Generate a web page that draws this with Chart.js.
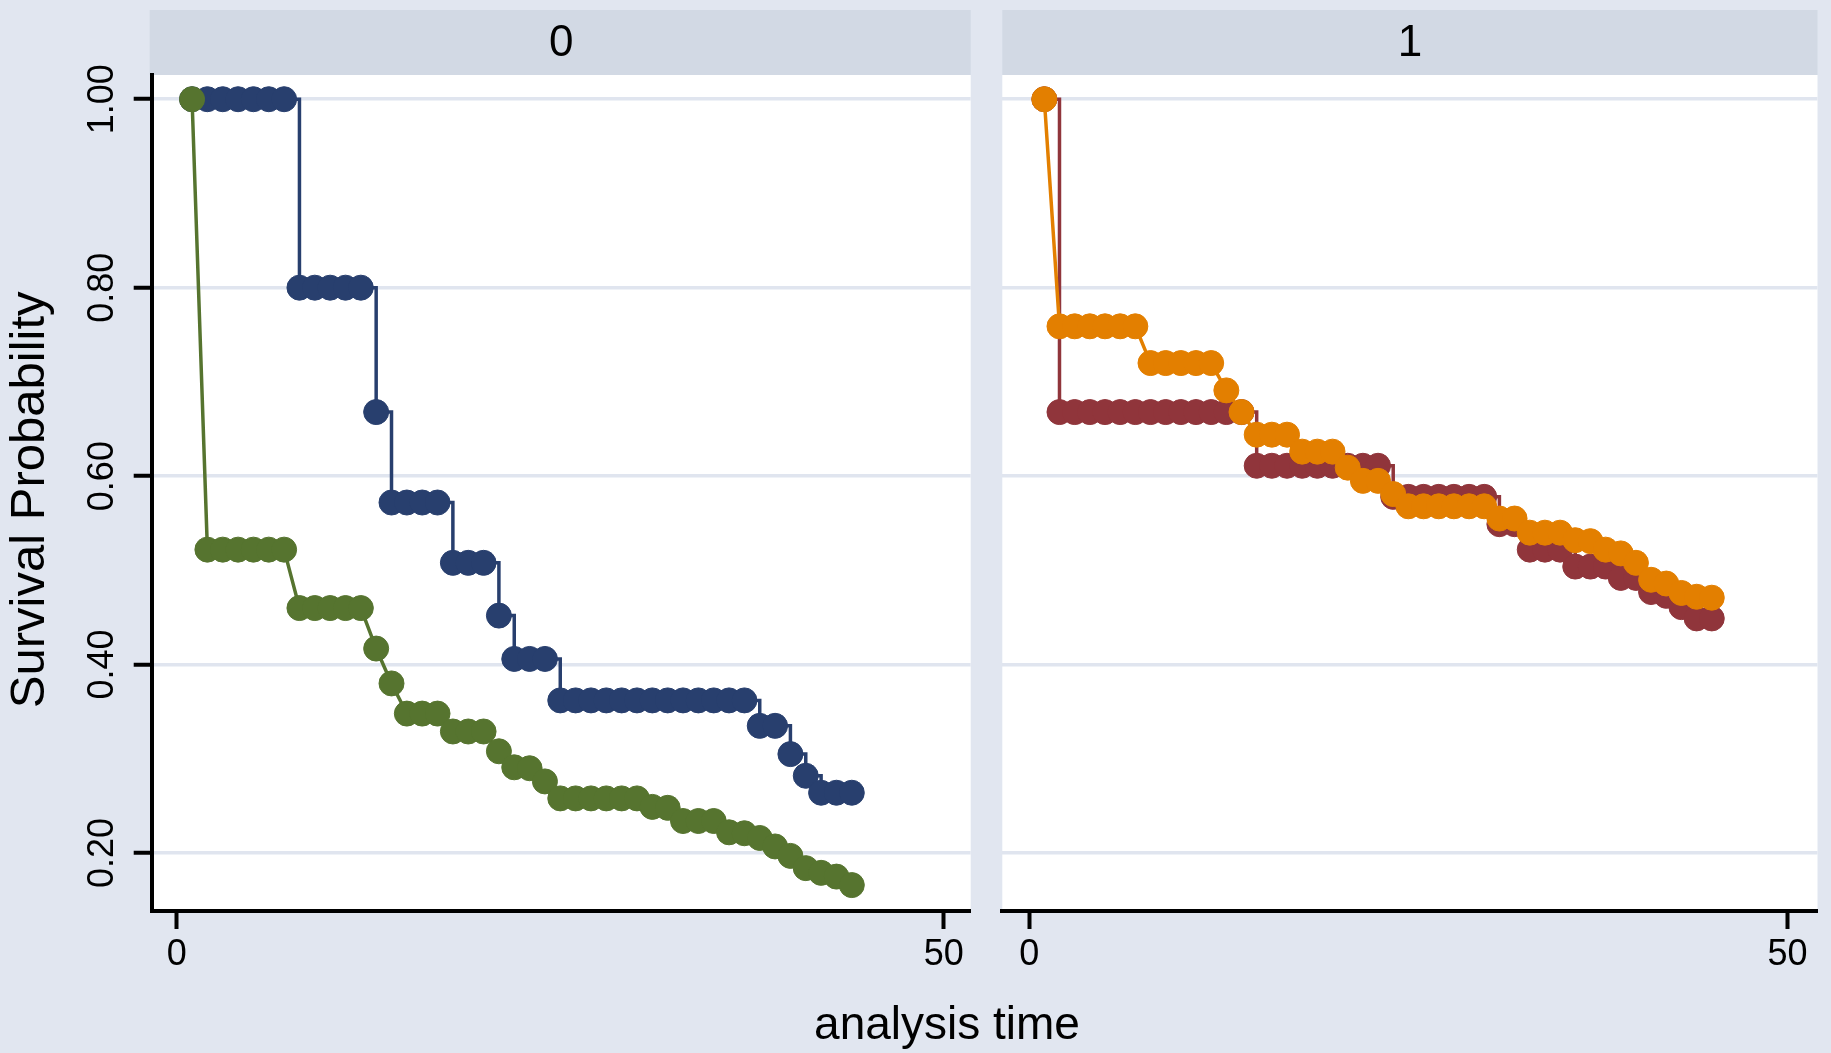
<!DOCTYPE html>
<html>
<head>
<meta charset="utf-8">
<title>Survival Probability</title>
<script src="https://cdn.jsdelivr.net/npm/chart.js@4.4.1/dist/chart.umd.min.js"></script>
<style>
    html, body { margin: 0; padding: 0; background: #e1e6f0; }
    #wrap { position: relative; width: 1831px; height: 1053px; overflow: hidden; }
    #panel0 { position: absolute; left: 0; top: 0; }
    #panel1 { position: absolute; left: 985px; top: 0; }
    #xtitle {
        position: absolute; left: 647px; top: 1000px; width: 600px;
        text-align: center; font: 46px/46px "Liberation Sans", Arial, sans-serif; color: #000;
    }
</style>
</head>
<body>
<div id="wrap">
    <canvas id="panel0" width="985" height="1053"></canvas>
    <canvas id="panel1" width="846" height="1053"></canvas>
    <div id="xtitle">analysis time</div>
</div>
<script>
// =========================
// DATOS
// =========================
const panelLabels = ["0", "1"]
const xTicks = [0, 50]
const yTicks = [0.2, 0.4, 0.6, 0.8, 1.0]

const times0 = [1, 2, 3, 4, 5, 6, 7, 8, 9, 10, 11, 12, 13, 14, 15, 16, 17, 18, 19, 20, 21, 22,
    23, 24, 25, 26, 27, 28, 29, 30, 31, 32, 33, 34, 35, 36, 37, 38, 39, 40, 41, 42, 43, 44]
const km0 = [1, 1, 1, 1, 1, 1, 1, 0.800, 0.800, 0.800, 0.800, 0.800, 0.668, 0.572, 0.572, 0.572,
    0.572, 0.508, 0.508, 0.508, 0.452, 0.406, 0.406, 0.406, 0.362, 0.362, 0.362, 0.362, 0.362,
    0.362, 0.362, 0.362, 0.362, 0.362, 0.362, 0.362, 0.362, 0.335, 0.335, 0.305, 0.282, 0.264,
    0.264, 0.264]
const model0 = [1, 0.522, 0.522, 0.522, 0.522, 0.522, 0.522, 0.460, 0.460, 0.460, 0.460, 0.460,
    0.417, 0.380, 0.348, 0.348, 0.348, 0.329, 0.329, 0.329, 0.308, 0.291, 0.290, 0.276, 0.258,
    0.258, 0.258, 0.258, 0.258, 0.258, 0.249, 0.248, 0.234, 0.234, 0.234, 0.222, 0.221, 0.216,
    0.207, 0.197, 0.184, 0.179, 0.175, 0.166]

const times1 = [1, 2, 3, 4, 5, 6, 7, 8, 9, 10, 11, 12, 13, 14, 15, 16, 17, 18, 19, 20, 21, 22,
    23, 24, 25, 26, 27, 28, 29, 30, 31, 32, 33, 34, 35, 36, 37, 38, 39, 40, 41, 42, 43, 44, 45]
const km1 = [1, 0.668, 0.668, 0.668, 0.668, 0.668, 0.668, 0.668, 0.668, 0.668, 0.668, 0.668,
    0.668, 0.668, 0.611, 0.611, 0.611, 0.611, 0.611, 0.611, 0.611, 0.611, 0.611, 0.578, 0.578,
    0.578, 0.578, 0.578, 0.578, 0.578, 0.549, 0.549, 0.522, 0.522, 0.522, 0.504, 0.504, 0.504,
    0.492, 0.492, 0.477, 0.473, 0.461, 0.449, 0.449]
const model1 = [1, 0.759, 0.759, 0.759, 0.759, 0.759, 0.759, 0.720, 0.720, 0.720, 0.720, 0.720,
    0.691, 0.668, 0.644, 0.644, 0.644, 0.626, 0.626, 0.626, 0.609, 0.595, 0.595, 0.581, 0.568,
    0.568, 0.568, 0.568, 0.568, 0.568, 0.555, 0.555, 0.540, 0.540, 0.540, 0.532, 0.531, 0.522,
    0.518, 0.508, 0.490, 0.486, 0.476, 0.472, 0.471]

const FONT = '"Liberation Sans", Arial, sans-serif'
Chart.defaults.font.family = FONT
Chart.defaults.color = "#000"

// fondo blanco del panel + franja gris con la etiqueta
const stripPlugin = {
    id: "strip",
    beforeDraw(chart, args, opts) {
        const { ctx, chartArea } = chart
        ctx.save()
        ctx.fillStyle = "#ffffff"
        ctx.fillRect(chartArea.left, chartArea.top, chartArea.right - chartArea.left, chartArea.bottom - chartArea.top)
        ctx.fillStyle = "#d2d9e4"
        ctx.fillRect(chartArea.left - opts.extendLeft, opts.top,
            chartArea.right - chartArea.left + opts.extendLeft, chartArea.top - opts.top)
        ctx.fillStyle = "#000"
        ctx.font = "44px " + FONT
        ctx.textAlign = "center"
        ctx.textBaseline = "middle"
        ctx.fillText(opts.label, (chartArea.left + chartArea.right) / 2, (opts.top + chartArea.top) / 2 + 1)
        ctx.restore()
    }
}

class SurvivalController {
    constructor() {
        this.charts = []
    }

    init() {
        this.charts.push(this.renderPanel("panel0", {
            label: panelLabels[0], times: times0, km: km0, model: model0,
            kmColor: "#283f6e", modelColor: "#56742f",
            xMin: -1.63, xMax: 51.75, yWidth: 151.7, padRight: 14.3, showY: true
        }))
        this.charts.push(this.renderPanel("panel1", {
            label: panelLabels[1], times: times1, km: km1, model: model1,
            kmColor: "#90353b", modelColor: "#e37f00",
            xMin: -1.77, xMax: 51.97, yWidth: 17.3, padRight: 10, showY: false
        }))
    }

    points(times, vals) {
        return times.map((t, i) => ({ x: t, y: vals[i] }))
    }

    renderPanel(id, p) {
        const ctx = document.getElementById(id)

        return new Chart(ctx, {
            type: "line",
            data: {
                datasets: [{
                    label: "model",
                    data: this.points(p.times, p.model),
                    borderColor: p.modelColor,
                    backgroundColor: p.modelColor,
                    borderWidth: 3.5,
                    pointRadius: 12.5,
                    pointBorderWidth: 1,
                    pointBorderColor: p.modelColor,
                    pointBackgroundColor: p.modelColor,
                    tension: 0,
                    order: 0
                }, {
                    label: "km",
                    data: this.points(p.times, p.km),
                    borderColor: p.kmColor,
                    backgroundColor: p.kmColor,
                    borderWidth: 3.5,
                    stepped: true,
                    pointRadius: 12.5,
                    pointBorderWidth: 1,
                    pointBorderColor: p.kmColor,
                    pointBackgroundColor: p.kmColor,
                    order: 1
                }]
            },
            options: {
                responsive: false,
                animation: false,
                layout: { padding: { top: 75, left: 0, right: p.padRight, bottom: 0 } },
                plugins: {
                    legend: { display: false },
                    tooltip: { enabled: false },
                    strip: { label: p.label, top: 10, extendLeft: p.showY ? 2 : 0 }
                },
                scales: {
                    x: {
                        type: "linear",
                        min: p.xMin,
                        max: p.xMax,
                        afterBuildTicks: s => { s.ticks = xTicks.map(v => ({ value: v })) },
                        afterFit: s => { s.height = 142 },
                        ticks: { font: { size: 36 }, color: "#000", padding: 4, maxRotation: 0 },
                        grid: { drawOnChartArea: false, drawTicks: true, tickLength: 18, tickColor: "#000", tickWidth: 4 },
                        border: { display: true, color: "#000", width: 4 }
                    },
                    y: {
                        type: "linear",
                        min: 0.1385,
                        max: 1.0257,
                        afterBuildTicks: s => { s.ticks = yTicks.map(v => ({ value: v })) },
                        afterFit: s => { s.width = p.yWidth },
                        ticks: {
                            display: p.showY,
                            font: { size: 36 },
                            color: "#000",
                            minRotation: 90,
                            maxRotation: 90,
                            crossAlign: "center",
                            padding: -4,
                            callback: v => Number(v).toFixed(2)
                        },
                        grid: {
                            color: "#e0e5ef",
                            lineWidth: 3.5,
                            drawTicks: p.showY,
                            tickLength: 18,
                            tickColor: "#000",
                            tickWidth: 4
                        },
                        border: { display: p.showY, color: "#000", width: 4 },
                        title: {
                            display: p.showY,
                            // espacio final: baja un poco el texto centrado
                            text: "Survival Probability ",
                            font: { size: 49 },
                            color: "#000",
                            padding: { top: 1, bottom: 0 }
                        }
                    }
                }
            },
            plugins: [stripPlugin]
        })
    }
}

window.survival = new SurvivalController()
window.survival.init()
</script>
</body>
</html>
